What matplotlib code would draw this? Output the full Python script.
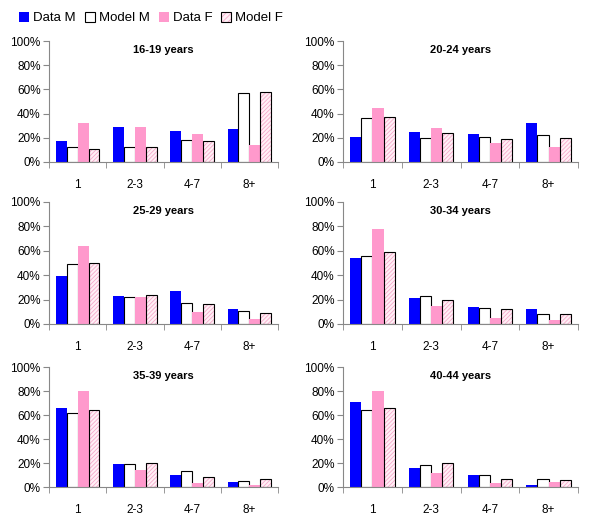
import numpy as np
import matplotlib.pyplot as plt
from matplotlib.patches import Patch
from matplotlib.legend_handler import HandlerTuple

plt.rcParams['font.family'] = ['Liberation Sans', 'DejaVu Sans']
plt.rcParams['hatch.linewidth'] = 0.6

# categories and panels
cats = ['1', '2-3', '4-7', '8+']
titles = ['16-19 years', '20-24 years', '25-29 years',
          '30-34 years', '35-39 years', '40-44 years']

# values in %
data_m = [[17, 29, 26, 27], [21, 25, 23, 32], [39, 23, 27, 12],
          [54, 21, 14, 12], [66, 19, 10, 4], [71, 16, 10, 2]]
model_m = [[12, 12, 18, 57], [36, 20, 21, 22], [49, 22, 17, 11],
           [56, 23, 13, 8], [62, 19, 13, 5], [64, 18, 10, 7]]
data_f = [[32, 29, 23, 14], [45, 28, 16, 12], [64, 22, 10, 4],
          [78, 15, 5, 3], [80, 14, 3, 2], [80, 12, 3, 4]]
model_f = [[11, 12, 17, 58], [37, 24, 19, 20], [50, 24, 16, 9],
           [59, 20, 12, 8], [64, 20, 8, 7], [66, 20, 7, 6]]

blue = '#0000FF'
pink = '#FF99CC'
hatch_col = '#F6A9CB'

fig = plt.figure(figsize=(6, 5.24), dpi=100)

# axes boxes in pixels: left, right, bottom(0%), top(100%)
cols = [(49, 278), (343, 578)]
rows = [(162, 41), (324, 202), (487, 367)]
W, H = 600, 524

x = np.arange(len(cats))
w = 0.19
for i in range(6):
    l, r = cols[i % 2]
    b, t = rows[i // 2]
    ax = fig.add_axes([l / W, 1 - b / H, (r - l) / W, (b - t) / H])
    ax.bar(x - 1.5 * w, data_m[i], w, color=blue, linewidth=0)
    ax.bar(x - 0.5 * w, model_m[i], w, color='white', edgecolor='black', linewidth=0.8)
    ax.bar(x + 0.5 * w, data_f[i], w, color=pink, linewidth=0)
    ax.bar(x + 1.5 * w, model_f[i], w, color='#FFF0F6', edgecolor=hatch_col,
           hatch='////////', linewidth=0)
    ax.bar(x + 1.5 * w, model_f[i], w, fill=False, edgecolor='black', linewidth=0.8)

    ax.set_xlim(-0.5, 3.5)
    ax.set_ylim(0, 100)
    ax.set_yticks([0, 20, 40, 60, 80, 100])
    ax.set_yticklabels([f'{v}%' for v in range(0, 101, 20)], fontsize=8.5)
    ax.set_xticks(x)
    ax.set_xticklabels(cats, fontsize=8.5)
    ax.tick_params(axis='x', which='major', length=0, pad=12)
    ax.set_xticks([-0.5, 0.5, 1.5, 2.5, 3.5], minor=True)
    ax.tick_params(axis='x', which='minor', length=4, color='#888888')
    ax.tick_params(axis='y', length=4, color='#888888', pad=2)
    for s in ['top', 'right']:
        ax.spines[s].set_visible(False)
    for s in ['left', 'bottom']:
        ax.spines[s].set_color('#888888')
        ax.spines[s].set_linewidth(0.8)
    ax.text(0.5, 0.97, titles[i], transform=ax.transAxes, ha='center', va='top',
            fontsize=8, fontweight='bold')

handles = [Patch(facecolor=blue, edgecolor='none'),
           Patch(facecolor='white', edgecolor='black', linewidth=0.8),
           Patch(facecolor=pink, edgecolor='none'),
           (Patch(facecolor='#FFF0F6', edgecolor=hatch_col, hatch='//////', linewidth=0),
            Patch(fill=False, edgecolor='black', linewidth=0.8))]
fig.legend(handles, ['Data M', 'Model M', 'Data F', 'Model F'], loc='upper left',
           bbox_to_anchor=(0.012, 1.0), ncol=4, frameon=False, fontsize=9.5,
           handlelength=0.75, handleheight=0.75, handletextpad=0.3, columnspacing=0.7,
           handler_map={tuple: HandlerTuple(ndivide=1)})

fig.savefig('out.png', dpi=100)
